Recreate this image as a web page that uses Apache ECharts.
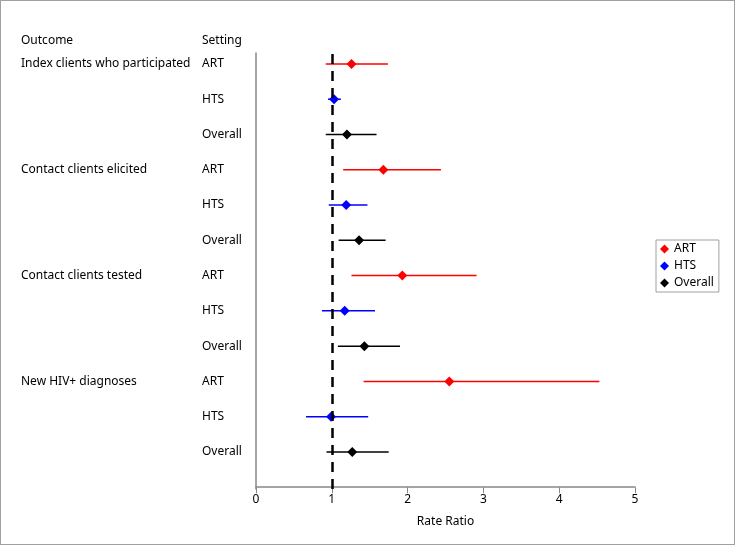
<!DOCTYPE html>
<html><head><meta charset="utf-8">
<script src="https://cdn.jsdelivr.net/npm/echarts@6/dist/echarts.min.js"></script>
<style>
html,body{margin:0;padding:0;background:#fff;}
#c{width:733px;height:543px;border:1px solid #a0a0a0;}
</style></head><body>
<div id="c"></div>
<script>
const outcomes = ["Index clients who participated","Contact clients elicited","Contact clients tested","New HIV+ diagnoses"];
const settings = ["ART","HTS","Overall"];
// rate ratio estimates and 95% CI, per outcome, per setting (ART, HTS, Overall)
const artEst = [1.26, 1.68, 1.93, 2.55];
const artLo  = [0.92, 1.15, 1.26, 1.42];
const artHi  = [1.74, 2.44, 2.91, 4.53];
const htsEst = [1.03, 1.19, 1.17, 0.99];
const htsLo  = [0.95, 0.96, 0.87, 0.66];
const htsHi  = [1.12, 1.47, 1.57, 1.48];
const allEst = [1.20, 1.36, 1.43, 1.27];
const allLo  = [0.92, 1.09, 1.08, 0.93];
const allHi  = [1.59, 1.71, 1.90, 1.75];
const xTicks = [0,1,2,3,4,5];
const colors = {ART:'#ff0000', HTS:'#0000ff', Overall:'#000000'};

const FONT = 'Noto Sans';
function rowY(oi, si){ return 12 - (oi*3 + si); }

const groups = [
  {name:'ART', est:artEst, lo:artLo, hi:artHi, si:0},
  {name:'HTS', est:htsEst, lo:htsLo, hi:htsHi, si:1},
  {name:'Overall', est:allEst, lo:allLo, hi:allHi, si:2}
];

const series = [];
groups.forEach(g=>{
  series.push({
    type:'custom', silent:true, z:3,
    data: g.est.map((v,oi)=>[g.lo[oi], g.hi[oi], rowY(oi,g.si)]),
    encode:{x:[0,1], y:2},
    renderItem:(params, api)=>{
      const a = api.coord([api.value(0), api.value(2)]);
      const b = api.coord([api.value(1), api.value(2)]);
      return {type:'line', shape:{x1:a[0],y1:a[1],x2:b[0],y2:b[1]},
        style:{stroke:colors[g.name], lineWidth:1.5}};
    }
  });
  series.push({
    name:g.name, type:'scatter', symbol:'diamond', symbolSize:10, z:4,
    itemStyle:{color:colors[g.name], opacity:1},
    data: g.est.map((v,oi)=>[v, rowY(oi,g.si)])
  });
});
series.push({
  type:'line', data:[], silent:true,
  markLine:{silent:true, symbol:'none', label:{show:false},
    lineStyle:{color:'#000', width:2.5, type:[10,7]},
    data:[{xAxis:1}]}
});

const chart = echarts.init(document.getElementById('c'), null, {renderer:'canvas'});
chart.setOption({
  animation:false,
  textStyle:{fontFamily:FONT},
  grid:{left:255, right:99, top:52, bottom:55},
  legend:{
    data:settings, orient:'vertical', left:655, top:239,
    icon:'diamond', itemWidth:9, itemHeight:9, itemGap:5,
    textStyle:{fontFamily:FONT, fontSize:12, color:'#000'},
    itemStyle:{opacity:1},
    borderColor:'#a0a0a0', borderWidth:1, padding:[3,5,3,4]
  },
  xAxis:{type:'value', min:0, max:5, interval:1,
    name:'Rate Ratio', nameLocation:'middle', nameGap:27,
    nameTextStyle:{fontFamily:FONT, fontSize:12, color:'#000'},
    axisLine:{lineStyle:{color:'#888', width:1.5}},
    axisTick:{show:true, length:6, lineStyle:{color:'#888'}},
    axisLabel:{fontFamily:FONT, fontSize:12, color:'#000', margin:5,
      formatter:v=> xTicks.includes(v)? String(v):''},
    splitLine:{show:false}},
  yAxis:{type:'value', min:-0.05, max:12.31,
    axisLine:{show:true, onZero:false, lineStyle:{color:'#888', width:1.5}},
    axisTick:{show:false}, axisLabel:{show:false}, splitLine:{show:false}},
  series:series
});

// column labels
const g = [];
const topY = chart.convertToPixel({yAxisIndex:0}, 12);
const ts = {fontFamily:FONT, fontSize:12, fill:'#000', verticalAlign:'middle', align:'left'};
g.push({type:'text', x:20, y:topY-23, style:Object.assign({text:'Outcome'}, ts)});
g.push({type:'text', x:201, y:topY-23, style:Object.assign({text:'Setting'}, ts)});
outcomes.forEach((o,oi)=>{
  settings.forEach((s,si)=>{
    const y = chart.convertToPixel({yAxisIndex:0}, rowY(oi,si));
    if(si===0) g.push({type:'text', x:20, y:y, style:Object.assign({text:o}, ts)});
    g.push({type:'text', x:201, y:y, style:Object.assign({text:s}, ts)});
  });
});
chart.setOption({graphic:g});
</script>
</body></html>
